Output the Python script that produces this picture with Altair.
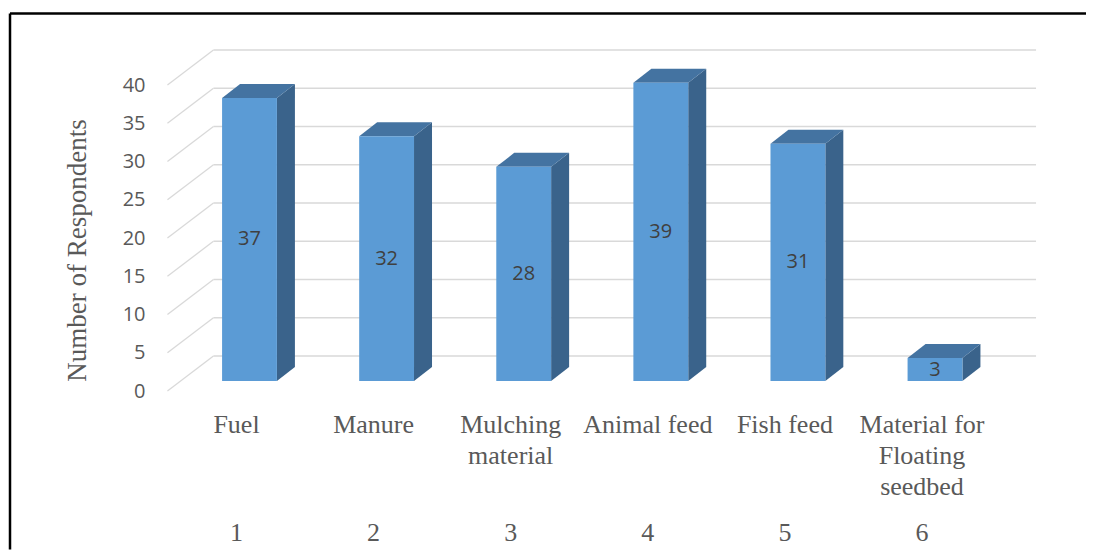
import json
import altair as alt
import pandas as pd

# ---------------- data ----------------
categories = ["Fuel", "Manure", "Mulching material", "Animal feed",
              "Fish feed", "Material for Floating seedbed"]
label_lines = [["Fuel"], ["Manure"], ["Mulching", "material"], ["Animal feed"],
               ["Fish feed"], ["Material for", "Floating", "seedbed"]]
values = [37, 32, 28, 39, 31, 3]
tick_numbers = [1, 2, 3, 4, 5, 6]
y_ticks = [0, 5, 10, 15, 20, 25, 30, 35, 40]

# ---------------- layout / style ----------------
PLOT_W, PLOT_H = 1076, 536
KX, KY = 137.1, 7.65                 # px per data unit
X0 = 1 - (236 - 10) / KX
X1 = X0 + PLOT_W / KX
Y1 = (391 - 13.5) / KY
Y0 = Y1 - PLOT_H / KY

BAR_HALF = 0.2
BAR_DX, BAR_DY = 13.5, -10           # bar plane shift (px)
DEPTH_X, DEPTH_Y = 18 / KX, 14 / KY  # bar depth (data units)
WALL_DX, WALL_DY = 46, -35           # back wall shift (px)

FRONT, TOP, SIDE = "#5B9BD5", "#4473A1", "#3A638B"
GRID = "#D9D9D9"
TXT = "#595959"
SERIF = "Liberation Serif"
SANS = "Open Sans"

n = len(categories)
idx = list(range(1, n + 1))

bars = pd.DataFrame({
    "cat": categories, "idx": idx, "value": values,
    "left": [i - BAR_HALF for i in idx], "right": [i + BAR_HALF for i in idx],
    "zero": 0, "mid": [v / 2 for v in values],
})

side_rows, top_rows = [], []
for c, i, v in zip(categories, idx, values):
    side_rows.append({"cat": c, "x": i + BAR_HALF, "lo": 0, "hi": v})
    side_rows.append({"cat": c, "x": i + BAR_HALF + DEPTH_X, "lo": DEPTH_Y, "hi": v + DEPTH_Y})
    top_rows.append({"cat": c, "y": v, "xl": i - BAR_HALF, "xr": i + BAR_HALF})
    top_rows.append({"cat": c, "y": v + DEPTH_Y, "xl": i - BAR_HALF + DEPTH_X, "xr": i + BAR_HALF + DEPTH_X})
side = pd.DataFrame(side_rows)
top = pd.DataFrame(top_rows)

grid = pd.DataFrame({"v": y_ticks, "wl": 0.5, "wr": n + 0.5})

xs = alt.Scale(domain=[X0, X1], nice=False, zero=False)
ys = alt.Scale(domain=[Y0, Y1], nice=False, zero=False)

# the same y axis is given to every layer so that the shared axis merges cleanly
y_axis = alt.Axis(values=y_ticks, title="Number of Respondents", offset=-140,
                  ticks=False, domain=False, grid=False, labelPadding=5,
                  labelFont=SANS, labelFontSize=20, labelColor=TXT,
                  titleFont=SERIF, titleFontSize=27, titleColor=TXT,
                  titleFontWeight="normal", titleX=-73, titleY=236.5,
                  titleAngle=-90, titleAlign="center", titleBaseline="middle")

cat_axis = alt.Axis(values=tick_numbers,
                    labelExpr=json.dumps(label_lines) + "[datum.value - 1]",
                    orient="bottom", offset=-117.5, ticks=False, domain=False,
                    grid=False, labelPadding=0, labelFont=SERIF, labelFontSize=26,
                    labelColor=TXT, labelLineHeight=31, labelBaseline="alphabetic",
                    labelAngle=0, labelOverlap=False, labelFlush=False, title=None)

num_axis = alt.Axis(values=tick_numbers, format="d", orient="bottom", offset=-9.5,
                    ticks=False, domain=False, grid=False, labelPadding=0,
                    labelFont=SERIF, labelFontSize=26, labelColor=TXT,
                    labelBaseline="alphabetic", labelAngle=0, labelOverlap=False,
                    labelFlush=False, title=None)

back_grid = alt.Chart(grid).mark_rule(
    color=GRID, strokeWidth=1.3, xOffset=WALL_DX, x2Offset=WALL_DX, yOffset=WALL_DY
).encode(
    x=alt.X("wl:Q", scale=xs, axis=None), x2="wr:Q",
    y=alt.Y("v:Q", scale=ys, axis=y_axis),
)

diag_grid = alt.Chart(grid).mark_rule(
    color=GRID, strokeWidth=1.3, x2Offset=WALL_DX, y2Offset=WALL_DY
).encode(
    x=alt.X("wl:Q", scale=xs, axis=None), x2="wl:Q",
    y=alt.Y("v:Q", scale=ys, axis=y_axis), y2="v:Q",
)

side_faces = alt.Chart(side).mark_area(
    color=SIDE, orient="vertical", xOffset=BAR_DX, yOffset=BAR_DY, y2Offset=BAR_DY
).encode(
    x=alt.X("x:Q", scale=xs, axis=None),
    y=alt.Y("lo:Q", scale=ys, axis=y_axis), y2="hi:Q",
    detail="cat:N",
)

top_faces = alt.Chart(top).mark_area(
    color=TOP, orient="horizontal", xOffset=BAR_DX, x2Offset=BAR_DX, yOffset=BAR_DY
).encode(
    y=alt.Y("y:Q", scale=ys, axis=y_axis),
    x=alt.X("xl:Q", scale=xs, axis=None), x2="xr:Q",
    detail="cat:N",
)

front_faces = alt.Chart(bars).mark_rect(
    color=FRONT, xOffset=BAR_DX, x2Offset=BAR_DX, yOffset=BAR_DY, y2Offset=BAR_DY
).encode(
    x=alt.X("left:Q", scale=xs, axis=cat_axis), x2="right:Q",
    y=alt.Y("zero:Q", scale=ys, axis=y_axis), y2="value:Q",
)

value_labels = alt.Chart(bars).mark_text(
    font=SANS, fontSize=20, color="#404040", dx=BAR_DX, dy=BAR_DY
).encode(
    x=alt.X("idx:Q", scale=xs, axis=num_axis),
    y=alt.Y("mid:Q", scale=ys, axis=y_axis),
    text="value:Q",
)

one = pd.DataFrame({"k": [0]})
border_top = alt.Chart(one).mark_rule(color="black", strokeWidth=2.5).encode(y=alt.value(0))
border_left = alt.Chart(one).mark_rule(color="black", strokeWidth=2.5).encode(x=alt.value(0))

chart = alt.layer(
    back_grid, diag_grid, side_faces, top_faces, front_faces, value_labels,
    border_top, border_left,
).resolve_scale(x="independent").resolve_axis(x="independent").properties(
    width=PLOT_W, height=PLOT_H,
    padding={"left": 2, "top": 5.5, "right": 0, "bottom": 0},
    autosize=alt.AutoSizeParams(type="none"),
    background="white",
).configure_view(stroke=None)

chart.save("out.html", embed_options={"renderer": "svg", "actions": False})
